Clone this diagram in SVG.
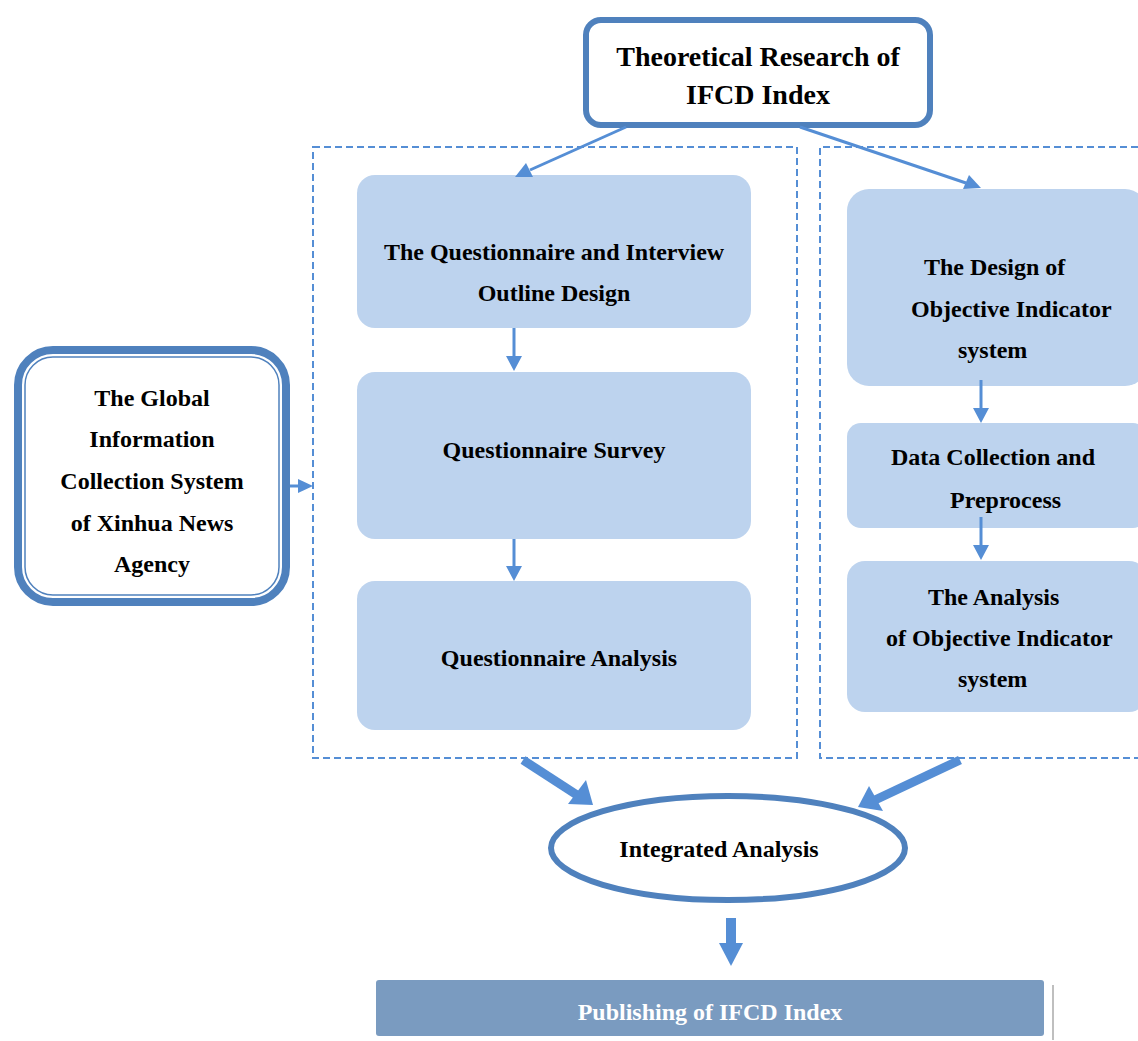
<svg xmlns="http://www.w3.org/2000/svg" width="1138" height="1041" viewBox="0 0 1138 1041">
<defs>
<style>
.t{font-family:"Liberation Serif","Times New Roman",serif;font-weight:bold;fill:#000;font-size:24px;}
.c{text-anchor:middle;}
.box{fill:#BDD3EE;}
.dash{fill:none;stroke:#558ED5;stroke-width:2;stroke-dasharray:7,4;}
.ln{stroke:#558ED5;stroke-width:3;fill:none;}
.thick{stroke:#558ED5;stroke-width:9;fill:none;}
.hd{fill:#558ED5;}
</style>
</defs>
<rect width="1138" height="1041" fill="#fff"/>
<g id="containers">
<rect class="dash" x="313" y="147" width="484" height="611"/>
<path class="dash" d="M1138,147 H820 V758 H1138"/>
</g>
<g id="n-theory">
<rect x="586" y="20" width="344" height="105" rx="15" fill="#fff" stroke="#4F81BD" stroke-width="6"/>
<text class="t c" x="758" y="66" style="font-size:28px">Theoretical Research of</text>
<text class="t c" x="758" y="104" style="font-size:28px">IFCD Index</text>
</g>
<g id="n-global">
<rect x="18" y="350" width="268" height="252" rx="35" fill="#fff" stroke="#4F81BD" stroke-width="8"/>
<rect x="25" y="357" width="254" height="238" rx="28" fill="none" stroke="#4F81BD" stroke-width="1.5"/>
<text class="t c" x="152" y="406">The Global</text>
<text class="t c" x="152" y="447">Information</text>
<text class="t c" x="152" y="489">Collection System</text>
<text class="t c" x="152" y="531">of Xinhua News</text>
<text class="t c" x="152" y="572">Agency</text>
</g>
<g id="n-q1">
<rect class="box" x="357" y="175" width="394" height="153" rx="18"/>
<text class="t c" x="554" y="260">The Questionnaire and Interview</text>
<text class="t c" x="554" y="301">Outline Design</text>
</g>
<g id="n-q2">
<rect class="box" x="357" y="372" width="394" height="167" rx="18"/>
<text class="t c" x="554" y="458">Questionnaire Survey</text>
</g>
<g id="n-q3">
<rect class="box" x="357" y="581" width="394" height="149" rx="18"/>
<text class="t c" x="559" y="666">Questionnaire Analysis</text>
</g>
<g id="n-o1">
<rect class="box" x="847" y="189" width="300" height="197" rx="22"/>
<text class="t" x="924" y="275">The Design of</text>
<text class="t" x="911" y="317">Objective Indicator</text>
<text class="t" x="958" y="358">system</text>
</g>
<g id="n-o2">
<rect class="box" x="847" y="423" width="300" height="105" rx="14"/>
<text class="t" x="891" y="465">Data Collection and</text>
<text class="t" x="950" y="508">Preprocess</text>
</g>
<g id="n-o3">
<rect class="box" x="847" y="561" width="300" height="151" rx="18"/>
<text class="t" x="928" y="605">The Analysis</text>
<text class="t" x="886" y="646">of Objective Indicator</text>
<text class="t" x="958" y="687">system</text>
</g>
<g id="n-integrated">
<ellipse cx="728" cy="848" rx="177" ry="52" fill="#fff" stroke="#4F81BD" stroke-width="6"/>
<text class="t c" x="719" y="857">Integrated Analysis</text>
</g>
<g id="n-publish">
<line x1="1053" y1="985" x2="1053" y2="1040" stroke="#BFBFBF" stroke-width="2"/>
<rect x="376" y="980" width="668" height="56" rx="3" fill="#7A9BC0"/>
<text class="t c" x="710" y="1020" style="fill:#fff">Publishing of IFCD Index</text>
</g>
<g id="connectors">
<line class="ln" x1="626" y1="127" x2="530" y2="170"/>
<polygon class="hd" points="515,177 526,163 533,177"/>
<line class="ln" x1="800" y1="127" x2="966" y2="183"/>
<polygon class="hd" points="981,188 963,189 969,175"/>
<line class="ln" x1="514" y1="328" x2="514" y2="356"/>
<polygon class="hd" points="506,356 522,356 514,371"/>
<line class="ln" x1="514" y1="539" x2="514" y2="566"/>
<polygon class="hd" points="506,566 522,566 514,581"/>
<line class="ln" x1="981" y1="380" x2="981" y2="408"/>
<polygon class="hd" points="973,408 989,408 981,423"/>
<line class="ln" x1="981" y1="517" x2="981" y2="545"/>
<polygon class="hd" points="973,545 989,545 981,560"/>
<line class="ln" x1="290" y1="486" x2="300" y2="486"/>
<polygon class="hd" points="298,479 298,493 313,486"/>
<line class="thick" x1="523" y1="760" x2="577" y2="795"/>
<polygon class="hd" points="568,804 586,780 593,805"/>
<line class="thick" x1="960" y1="760" x2="875" y2="800"/>
<polygon class="hd" points="858,807 869,786 883,811"/>
<rect class="hd" x="726" y="918" width="10" height="26"/>
<polygon class="hd" points="719,943 743,943 731,966"/>
</g>
</svg>
